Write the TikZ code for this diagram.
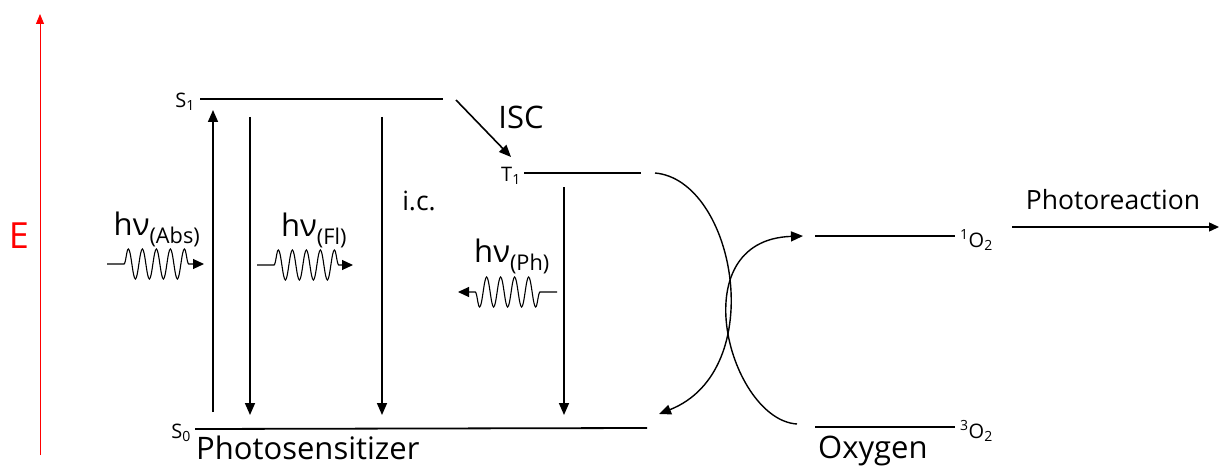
\documentclass[tikz,border=0pt]{standalone}
\usepackage{fontspec}
\setmainfont{Open Sans}
\usetikzlibrary{arrows.meta,decorations.pathmorphing}
\begin{document}
\begin{tikzpicture}[x=1pt,y=-1pt,
  lvl/.style={line width=1.8pt},
  trans/.style={line width=1.6pt,-{Triangle[length=12pt,width=10pt]}},
  wave/.style={line width=1.1pt,-{Triangle[length=11pt,width=10pt]},decorate,
    decoration={snake,amplitude=15pt,segment length=14pt,pre length=17pt,post length=14pt}},
  big/.style={font=\fontsize{31}{36}\selectfont,inner sep=0pt},
  mid/.style={font=\fontsize{26.5}{30}\selectfont,inner sep=0pt},
  sml/.style={font=\fontsize{20}{24}\selectfont,inner sep=0pt}]
  \useasboundingbox (0,0) rectangle (1220,468);
  % energy axis
  \coordinate (ebot) at (40,455); \coordinate (etop) at (40,14);
  \draw[red,line width=1pt,-{Triangle[length=10pt,width=8pt]}] (ebot) -- (etop);
  \node[red,inner sep=0pt,font=\fontsize{36}{40}\selectfont] (elbl) at (19,236) {E};
  % photosensitizer levels
  \coordinate (s1a) at (200,99); \coordinate (s1b) at (443,99);
  \coordinate (s0a) at (195,429); \coordinate (s0b) at (647,428);
  \coordinate (t1a) at (524,173); \coordinate (t1b) at (641,173);
  \draw[lvl] (s1a) -- (s1b); \draw[lvl] (s0a) -- (s0b); \draw[lvl] (t1a) -- (t1b);
  \node[sml,anchor=east] (s1) at (195,102) {S\textsubscript{1}};
  \node[sml,anchor=east] (s0) at (191,433) {S\textsubscript{0}};
  \node[sml,anchor=east] (t1) at (521,176) {T\textsubscript{1}};
  \node[big,anchor=base west] (psens) at (196,459) {Photosensitizer};
  % transitions
  \coordinate (absb) at (213,412); \coordinate (abst) at (213,110);
  \coordinate (flt) at (250,117); \coordinate (flb) at (250,415);
  \coordinate (ict) at (382,117); \coordinate (icb) at (382,415);
  \coordinate (pht) at (564,187); \coordinate (phb) at (564,415);
  \coordinate (isca) at (456,100); \coordinate (iscb) at (511,157);
  \draw[trans] (absb) -- (abst); \draw[trans] (flt) -- (flb);
  \draw[trans] (ict) -- (icb); \draw[trans] (pht) -- (phb);
  \draw[trans] (isca) -- (iscb);
  \node[big] (isc) at (521,117) {ISC};
  \node[mid] (ic) at (419,201) {i.c.};
  % photons
  \coordinate (wabsa) at (107,264); \coordinate (wabsb) at (204,264);
  \coordinate (wfla) at (257,265); \coordinate (wflb) at (353,265);
  \coordinate (wpha) at (557,292); \coordinate (wphb) at (458,292);
  \draw[wave] (wabsa) -- (wabsb); \draw[wave] (wfla) -- (wflb); \draw[wave] (wpha) -- (wphb);
  \node[big] (habs) at (157,229) {hν\textsubscript{(Abs)}};
  \node[big] (hfl) at (314,230) {hν\textsubscript{(Fl)}};
  \node[big] (hph) at (512,256) {hν\textsubscript{(Ph)}};
  % oxygen
  \coordinate (o1a) at (815,236); \coordinate (o1b) at (955,236);
  \coordinate (o3a) at (815,427); \coordinate (o3b) at (955,427);
  \draw[lvl] (o1a) -- (o1b); \draw[lvl] (o3a) -- (o3b);
  \node[sml,anchor=west] (o1) at (960,240) {\textsuperscript{1}O\textsubscript{2}};
  \node[sml,anchor=west] (o3) at (960,431) {\textsuperscript{3}O\textsubscript{2}};
  \node[big,anchor=base west] (oxy) at (818,458) {Oxygen};
  % energy transfer
  \coordinate (c1a) at (655,173); \coordinate (c1b) at (659,414);
  \coordinate (c2a) at (797,424); \coordinate (c2b) at (803,236);
  \draw[trans,line width=1.4pt] (c1a) .. controls (735,180) and (770,370) .. (c1b);
  \draw[trans,line width=1.4pt] (c2a) .. controls (730,420) and (680,240) .. (c2b);
  % photoreaction
  \coordinate (pra) at (1012,227); \coordinate (prb) at (1219,227);
  \draw[line width=1.4pt,-{Triangle[length=10pt,width=9pt]}] (pra) -- (prb);
  \node[mid] (prlbl) at (1113,200) {Photoreaction};
\end{tikzpicture}
\end{document}
